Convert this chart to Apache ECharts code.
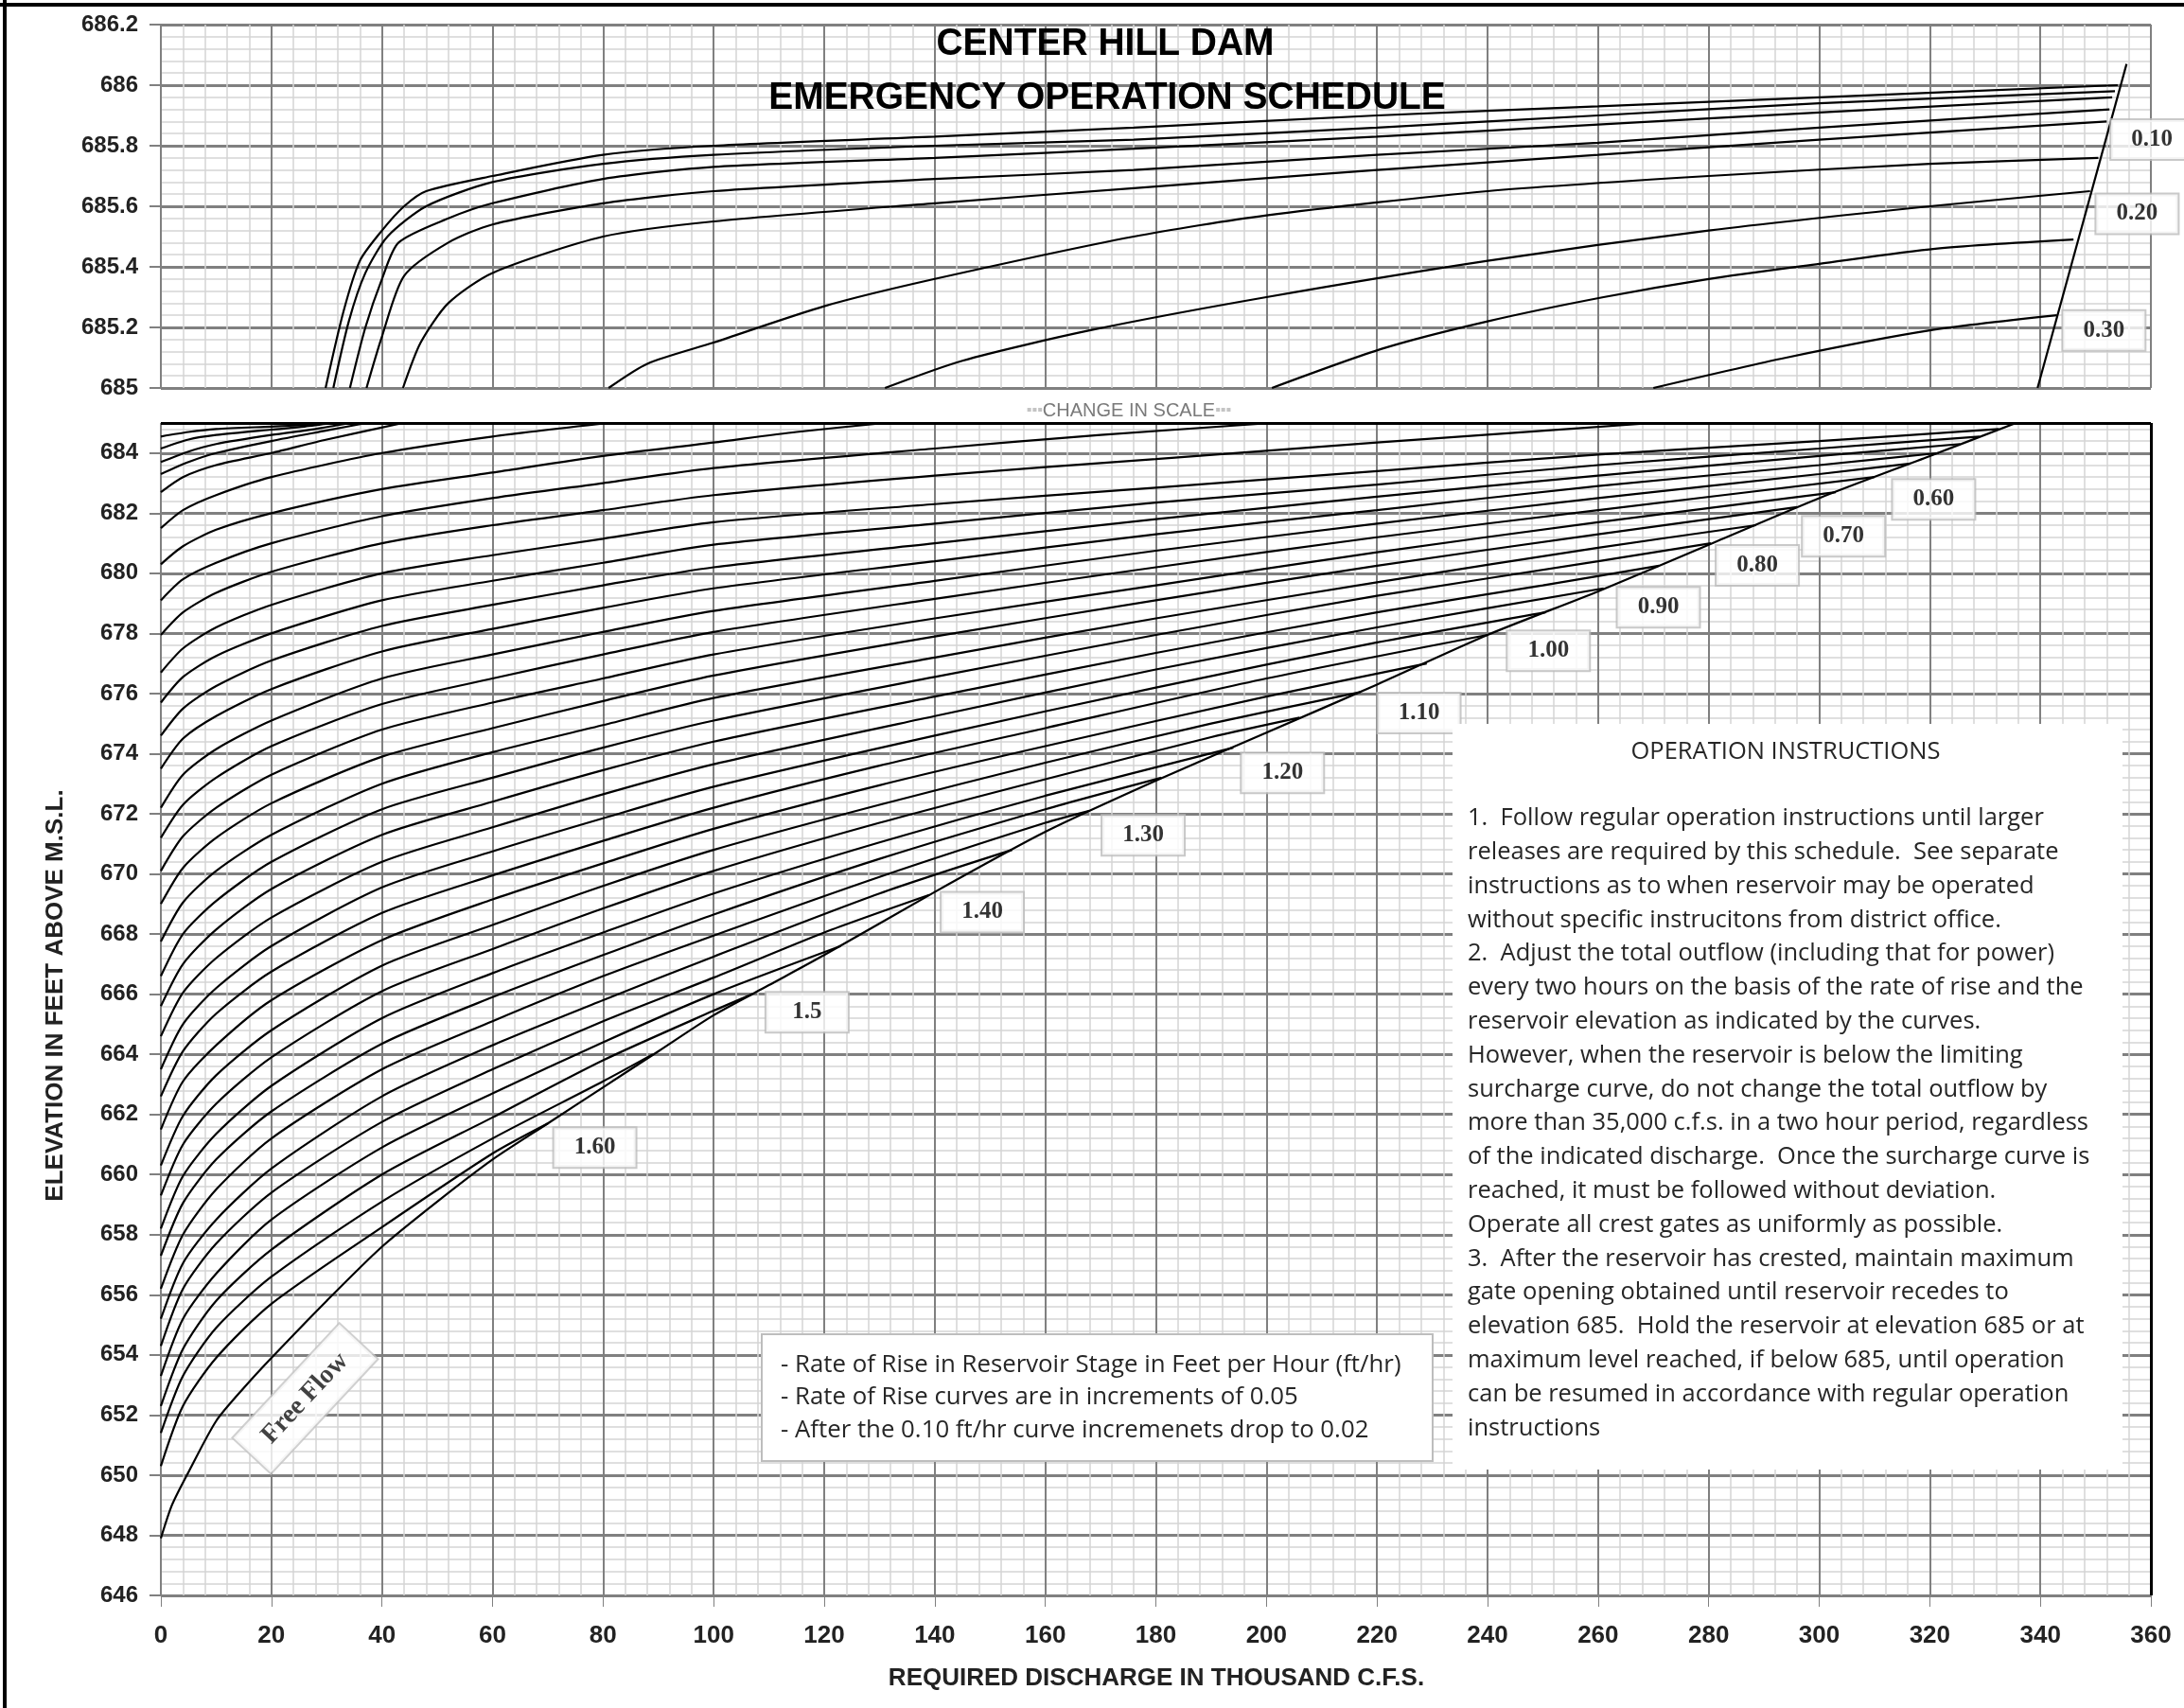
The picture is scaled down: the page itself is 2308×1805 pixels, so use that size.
<!DOCTYPE html>
<html><head><meta charset="utf-8">
<script src="https://cdn.jsdelivr.net/npm/echarts@6/dist/echarts.min.js"></script>
<style>html,body{margin:0;padding:0;background:#fff}#c{width:2308px;height:1805px}</style>
</head><body><div id="c"></div>
<script>
// ---------- DATA (x = thousand c.f.s., y = elevation ft) ----------
const xTickLabels = [0,20,40,60,80,100,120,140,160,180,200,220,240,260,280,300,320,340,360];
const freeFlow = [[0,647.9],[2,649.0],[5,650.1],[10,651.8],[15,652.9],[20,653.9],[30,655.8],[40,657.6],[50,659.1],[60,660.5],[70,661.7],[80,662.9],[90,664.1],[100,665.3],[110,666.3],[120,667.3],[140,669.4],[160,671.4],[180,673.1],[200,674.7],[220,676.3],[240,677.95],[260,679.4],[280,680.95],[300,682.5],[320,683.9],[335.6,685.0]];
const freeFlowTop = [[339.5,685.0],[355.6,686.07]];
const r160 = [[0,650.3],[4,652.3],[10,653.9],[20,655.7],[40,658.25],[60,660.7],[70,661.7]];
const r155 = [[0,651.4],[4,653.3],[10,654.9],[20,656.6],[40,659.1],[60,661.2],[80,663.1],[89,664.0]];
const r150 = [[0,652.3],[4,654.2],[10,655.8],[20,657.5],[40,660.0],[60,661.9],[80,663.8],[100,665.45],[107,666.0]];
const r145 = [[0,653.3],[4,655.2],[10,656.7],[20,658.5],[40,660.9],[60,662.7],[80,664.4],[100,666.0],[123,667.6]];
const r140 = [[0,654.3],[4,656.2],[10,657.7],[20,659.4],[40,661.75],[60,663.5],[80,665.1],[100,666.55],[120,668.05],[139,669.3]];
const r135 = [[0,655.2],[4,657.05],[10,658.5],[20,660.2],[40,662.6],[60,664.3],[80,665.8],[100,667.25],[130,669.35],[154,670.8]];
const r130 = [[0,656.2],[4,658.0],[10,659.5],[20,661.2],[40,663.5],[60,665.1],[80,666.6],[100,667.95],[130,669.9],[160,671.7],[168,672.1]];
const r125 = [[0,657.3],[4,659.05],[10,660.5],[20,662.1],[40,664.35],[60,665.9],[80,667.3],[100,668.65],[130,670.5],[160,672.15],[181,673.2]];
const r120 = [[0,658.2],[4,659.95],[10,661.35],[20,662.95],[40,665.2],[60,666.7],[80,668.05],[100,669.35],[130,671.05],[160,672.6],[194,674.2]];
const r115 = [[0,659.3],[4,661.0],[10,662.35],[20,663.9],[40,666.1],[60,667.5],[80,668.85],[100,670.1],[130,671.7],[160,673.15],[190,674.55],[206,675.2]];
const r110 = [[0,660.3],[4,661.95],[10,663.3],[20,664.8],[40,666.95],[60,668.3],[80,669.6],[100,670.8],[130,672.3],[160,673.7],[190,675.0],[217,676.05]];
const r105 = [[0,661.5],[4,663.1],[10,664.3],[20,665.8],[40,667.8],[60,669.15],[80,670.35],[100,671.5],[130,672.95],[160,674.25],[200,675.9],[229,677.0]];
const r100 = [[0,662.6],[4,664.1],[10,665.35],[20,666.75],[40,668.7],[60,669.95],[80,671.1],[100,672.2],[130,673.6],[160,674.85],[200,676.5],[240,677.95]];
const r095 = [[0,663.5],[4,665.0],[10,666.2],[20,667.6],[40,669.55],[60,670.75],[80,671.85],[100,672.9],[140,674.6],[180,676.2],[220,677.7],[250.5,678.7]];
const r090 = [[0,664.6],[4,666.05],[10,667.2],[20,668.55],[40,670.4],[60,671.55],[80,672.65],[100,673.65],[140,675.25],[180,676.8],[220,678.2],[261,679.5]];
const r085 = [[0,665.6],[4,667.0],[10,668.15],[20,669.5],[40,671.3],[60,672.4],[80,673.45],[100,674.4],[140,675.9],[180,677.35],[220,678.7],[250,679.6],[271,680.25]];
const r080 = [[0,666.6],[4,668.0],[10,669.1],[20,670.4],[40,672.15],[60,673.2],[80,674.2],[100,675.1],[140,676.55],[180,677.95],[220,679.25],[260,680.4],[280.4,681.0]];
const r075 = [[0,667.75],[4,669.05],[10,670.1],[20,671.3],[40,673.0],[60,674.05],[80,674.95],[100,675.85],[140,677.2],[180,678.5],[220,679.7],[260,680.85],[288.6,681.6]];
const r070 = [[0,669.0],[4,670.2],[10,671.2],[20,672.35],[40,673.9],[60,674.85],[80,675.75],[100,676.6],[140,677.9],[180,679.1],[220,680.25],[260,681.3],[296,682.2]];
const r065 = [[0,670.1],[4,671.25],[10,672.2],[20,673.3],[40,674.8],[60,675.7],[80,676.5],[100,677.3],[140,678.5],[180,679.6],[220,680.7],[260,681.7],[303,682.7]];
const r060 = [[0,671.2],[4,672.3],[10,673.2],[20,674.25],[40,675.65],[60,676.5],[80,677.3],[100,678.05],[140,679.15],[180,680.2],[220,681.2],[260,682.1],[310,683.2]];
const r055 = [[0,672.2],[4,673.3],[10,674.15],[20,675.1],[40,676.5],[60,677.3],[80,678.05],[100,678.75],[140,679.75],[180,680.75],[220,681.65],[260,682.5],[300,683.3],[316.5,683.65]];
const r050 = [[0,673.5],[4,674.5],[10,675.25],[20,676.15],[40,677.4],[60,678.15],[80,678.85],[100,679.5],[140,680.4],[180,681.3],[220,682.1],[260,682.9],[300,683.6],[321.6,684.0]];
const r045 = [[0,674.6],[4,675.5],[10,676.25],[20,677.1],[40,678.25],[60,678.95],[80,679.6],[100,680.2],[140,681.0],[180,681.8],[220,682.55],[260,683.25],[300,683.9],[325.5,684.3]];
const r040 = [[0,675.7],[4,676.55],[10,677.25],[20,678.0],[40,679.1],[60,679.75],[80,680.35],[100,680.95],[140,681.65],[180,682.35],[220,682.95],[260,683.6],[300,684.15],[329,684.55]];
const r035 = [[0,676.7],[4,677.5],[10,678.2],[20,678.95],[40,680.0],[60,680.6],[80,681.15],[100,681.7],[140,682.3],[180,682.85],[220,683.4],[260,683.95],[300,684.4],[332.5,684.8]];
const r030 = [[0,677.95],[4,678.7],[10,679.35],[20,680.05],[40,681.0],[60,681.6],[80,682.1],[100,682.6],[140,683.25],[180,683.8],[220,684.35],[270,685.0]];
const r025 = [[0,679.1],[4,679.8],[10,680.35],[20,681.0],[40,681.9],[60,682.5],[80,683.0],[100,683.5],[140,684.15],[170,684.6],[201,685.0]];
const r020 = [[0,680.3],[4,680.9],[10,681.45],[20,682.0],[40,682.8],[60,683.35],[80,683.9],[100,684.35],[115,684.7],[131,685.0]];
const r015 = [[0,681.5],[4,682.1],[10,682.6],[20,683.2],[40,684.0],[60,684.55],[81,685.0]];
const r010 = [[0,682.7],[4,683.2],[10,683.6],[20,684.0],[30,684.45],[43.8,685.0]];
const r008 = [[0,683.3],[5,683.7],[10,684.0],[20,684.4],[30,684.75],[37.2,685.0]];
const r006 = [[0,683.7],[5,684.05],[10,684.3],[20,684.6],[28,684.8],[34.2,685.0]];
const r004 = [[0,684.15],[5,684.45],[10,684.6],[20,684.78],[26,684.88],[31.2,685.0]];
const r002 = [[0,684.55],[5,684.7],[10,684.8],[20,684.88],[26,684.93],[29.8,685.0]];
const t030 = [[270,685.0],[294,685.1],[320,685.19],[343,685.24]];
const t025 = [[201,685.0],[221,685.13],[240,685.22],[261,685.3],[280,685.36],[300,685.41],[321,685.46],[346,685.49]];
const t020 = [[131,685.0],[145,685.09],[168,685.19],[200,685.3],[240,685.42],[280,685.52],[320,685.6],[349,685.65]];
const t015 = [[81,685.0],[88,685.08],[100,685.15],[120,685.27],[140,685.36],[176,685.5],[200,685.57],[240,685.65],[280,685.7],[320,685.74],[350.5,685.76]];
const t010 = [[43.8,685.0],[47,685.15],[52,685.28],[60,685.38],[80,685.5],[100,685.55],[140,685.61],[176,685.66],[220,685.72],[260,685.77],[300,685.82],[352,685.88]];
const t008 = [[37.2,685.0],[40,685.17],[44,685.37],[52,685.48],[60,685.54],[80,685.61],[100,685.65],[140,685.69],[176,685.72],[220,685.77],[260,685.81],[300,685.86],[352.5,685.92]];
const t006 = [[34.2,685.0],[37,685.2],[40,685.36],[43,685.48],[52,685.56],[60,685.61],[80,685.69],[100,685.73],[140,685.76],[176,685.79],[220,685.83],[260,685.87],[300,685.91],[353,685.96]];
const t004 = [[31.2,685.0],[34,685.22],[37,685.38],[41,685.5],[48,685.6],[60,685.68],[80,685.74],[100,685.77],[140,685.8],[176,685.82],[220,685.86],[260,685.9],[300,685.94],[353.5,685.98]];
const t002 = [[29.8,685.0],[33,685.25],[36,685.42],[40,685.52],[44,685.6],[48,685.65],[60,685.7],[80,685.77],[100,685.8],[140,685.83],[176,685.86],[220,685.9],[260,685.93],[300,685.96],[354,686.0]];
const topLabelNames = ['0.10','0.20','0.30'];
const topLabelAt = [[360.2,685.82],[357.5,685.575],[351.5,685.19]];
const lowLabelNames = ['0.60','0.70','0.80','0.90','1.00','1.10','1.20','1.30','1.40','1.5','1.60'];
const lowLabelAt = [[320.7,682.46],[304.4,681.23],[288.8,680.26],[270.9,678.87],[251.0,677.42],[227.6,675.35],[202.9,673.36],[177.7,671.28],[148.6,668.73],[116.9,665.4],[78.5,660.9]];
const freeFlowLabelAt = [26.1,652.55];

const lowCurves = [freeFlow,r160,r155,r150,r145,r140,r135,r130,r125,r120,r115,r110,r105,r100,r095,r090,r085,r080,r075,r070,r065,r060,r055,r050,r045,r040,r035,r030,r025,r020,r015,r010,r008,r006,r004,r002];
const topCurves = [freeFlowTop,t030,t025,t020,t015,t010,t008,t006,t004,t002];

const instructions = [
'1.  Follow regular operation instructions until larger',
'releases are required by this schedule.  See separate',
'instructions as to when reservoir may be operated',
'without specific instrucitons from district office.',
'2.  Adjust the total outflow (including that for power)',
'every two hours on the basis of the rate of rise and the',
'reservoir elevation as indicated by the curves.',
'However, when the reservoir is below the limiting',
'surcharge curve, do not change the total outflow by',
'more than 35,000 c.f.s. in a two hour period, regardless',
'of the indicated discharge.  Once the surcharge curve is',
'reached, it must be followed without deviation.',
'Operate all crest gates as uniformly as possible.',
'3.  After the reservoir has crested, maintain maximum',
'gate opening obtained until reservoir recedes to',
'elevation 685.  Hold the reservoir at elevation 685 or at',
'maximum level reached, if below 685, until operation',
'can be resumed in accordance with regular operation',
'instructions'];
const notes = [
'- Rate of Rise in Reservoir Stage in Feet per Hour (ft/hr)',
'- Rate of Rise curves are in increments of 0.05',
'- After the 0.10 ft/hr curve incremenets drop to 0.02'];

// ---------- CHART ----------
const MAJOR = '#808080', MINOR = '#d5d5d5';
function curve(data, gi) {
  return {type:'line', xAxisIndex:gi, yAxisIndex:gi, data:data, symbol:'none', showSymbol:false,
    smooth:0.25, silent:true, z:3,
    lineStyle:{color:'#000', width:2.2}};
}
function labelSeries(gi, names, pts) {
  return {type:'scatter', xAxisIndex:gi, yAxisIndex:gi, symbolSize:0, clip:false, silent:true, z:6,
    data: pts.map((p,i)=>({value:p, label:{formatter:names[i]}})),
    label:{show:true, position:'inside', fontFamily:'Liberation Serif', fontWeight:'bold', fontSize:25, color:'#000',
      backgroundColor:'#fff', borderColor:'#bcbcbc', borderWidth:2, padding:[8,20], lineHeight:25, width:46, align:'center'}};
}
const xBase = {type:'value', min:0, max:360, interval:20,
  axisLine:{show:false},
  splitLine:{show:true, lineStyle:{color:MAJOR, width:2}},
  minorTick:{show:false, splitNumber:5},
  minorSplitLine:{show:true, lineStyle:{color:MINOR, width:1.5}}};
const yLabel = {show:true, fontFamily:'Liberation Sans', fontWeight:'bold', fontSize:24, color:'#222', margin:24};

const series = [];
lowCurves.forEach(c=>series.push(curve(c,1)));
topCurves.forEach(c=>series.push(curve(c,0)));
series.push(labelSeries(0, topLabelNames, topLabelAt));
series.push(labelSeries(1, lowLabelNames, lowLabelAt));
series.push({type:'scatter', xAxisIndex:1, yAxisIndex:1, symbolSize:0, clip:false, silent:true, z:6,
  data:[{value:freeFlowLabelAt}],
  label:{show:true, position:'inside', formatter:'Free Flow', rotate:47, fontFamily:'Liberation Serif', fontWeight:'bold',
    fontSize:28, color:'#111', backgroundColor:'#fff', borderColor:'#c4c4c4', borderWidth:2, padding:[13,22]}});
series.push({type:'line', xAxisIndex:1, yAxisIndex:1, data:[], symbol:'none', silent:true,
  markLine:{silent:true, symbol:['none','none'], label:{show:false}, lineStyle:{color:'#000', width:3, type:'solid'},
    data:[{yAxis:685},{xAxis:360}]}});

const CENTER = {align:'center', verticalAlign:'middle', textAlign:'center', textVerticalAlign:'middle'};
const option = {
  animation:false,
  backgroundColor:'#fff',
  grid:[{left:170, top:26, width:2103, height:384}, {left:170, top:447, width:2103, height:1239}],
  xAxis:[
    Object.assign({}, xBase, {gridIndex:0, axisTick:{show:false}, axisLabel:{show:false}}),
    Object.assign({}, xBase, {gridIndex:1,
      axisTick:{show:true, length:12, lineStyle:{color:MAJOR, width:1}},
      axisLabel:{show:true, fontFamily:'Liberation Sans', fontWeight:'bold', fontSize:26, color:'#222', margin:30,
        formatter:(v)=> xTickLabels.indexOf(v) >= 0 ? String(v) : ''}})
  ],
  yAxis:[
    {gridIndex:0, type:'value', min:685, max:686.2, interval:0.2,
      axisLine:{show:false}, axisTick:{show:true, length:12, lineStyle:{color:MAJOR, width:2}},
      axisLabel:yLabel,
      splitLine:{show:true, lineStyle:{color:MAJOR, width:3}},
      minorTick:{show:false, splitNumber:5}, minorSplitLine:{show:true, lineStyle:{color:MINOR, width:1.5}}},
    {gridIndex:1, type:'value', min:646, max:685, interval:2,
      axisLine:{show:false}, axisTick:{show:true, length:12, lineStyle:{color:MAJOR, width:2}},
      axisLabel:Object.assign({}, yLabel, {showMaxLabel:false}),
      splitLine:{show:true, lineStyle:{color:MAJOR, width:3}},
      minorTick:{show:false, splitNumber:5}, minorSplitLine:{show:true, lineStyle:{color:MINOR, width:1.5}}}
  ],
  series: series,
  graphic:[
    {type:'line', z:100, shape:{x1:0,y1:5,x2:2308,y2:5}, style:{stroke:'#000', lineWidth:4}},
    {type:'line', z:100, shape:{x1:5,y1:0,x2:5,y2:1805}, style:{stroke:'#000', lineWidth:4}},
    {type:'text', z:100, x:1168, y:47, scaleX:0.95,
      style:Object.assign({text:'CENTER HILL DAM', font:'bold 41px "Liberation Sans"', fill:'#000'}, CENTER)},
    {type:'text', z:100, x:1170, y:104, scaleX:0.95,
      style:Object.assign({text:'EMERGENCY OPERATION SCHEDULE', font:'bold 41px "Liberation Sans"', fill:'#000'}, CENTER)},
    {type:'text', z:100, x:1193, y:434,
      style:Object.assign({text:'{d|\u25AA\u25AA\u25AA}CHANGE IN SCALE{d|\u25AA\u25AA\u25AA}', font:'20px "Liberation Sans"', fill:'#7a7a7a',
        rich:{d:{fill:'#c4c4c4', fontSize:16}}}, CENTER)},
    {type:'text', z:100, x:1222, y:1774,
      style:Object.assign({text:'REQUIRED DISCHARGE IN THOUSAND C.F.S.', font:'bold 26px "Liberation Sans"', fill:'#222'}, CENTER)},
    {type:'text', z:100, x:59, y:1052, rotation:Math.PI/2,
      style:Object.assign({text:'ELEVATION IN FEET ABOVE M.S.L.', font:'bold 26px "Liberation Sans"', fill:'#222'}, CENTER)},
    // operation instructions panel
    {type:'rect', z:50, shape:{x:1535, y:765, width:708, height:788}, style:{fill:'#fff', stroke:null}},
    {type:'text', z:101, x:1887, y:795,
      style:Object.assign({text:'OPERATION INSTRUCTIONS', font:'25.5px "Open Sans"', fill:'#262626'}, CENTER)},
    {type:'text', z:101, x:1551, y:847,
      style:{text:instructions.join('\n'), font:'25.5px "Open Sans"', lineHeight:35.8, fill:'#262626', align:'left', verticalAlign:'top', textAlign:'left', textVerticalAlign:'top'}},
    // notes box
    {type:'rect', z:50, shape:{x:805, y:1410, width:709, height:134}, style:{fill:'#fff', stroke:'#bdbdbd', lineWidth:2}},
    {type:'text', z:101, x:825, y:1425,
      style:{text:notes.join('\n'), font:'25.8px "Open Sans"', lineHeight:34.5, fill:'#262626', align:'left', verticalAlign:'top', textAlign:'left', textVerticalAlign:'top'}}
  ]
};
const chart = echarts.init(document.getElementById('c'), null, {renderer:'canvas', width:2308, height:1805});
chart.setOption(option);
</script>
</body></html>
